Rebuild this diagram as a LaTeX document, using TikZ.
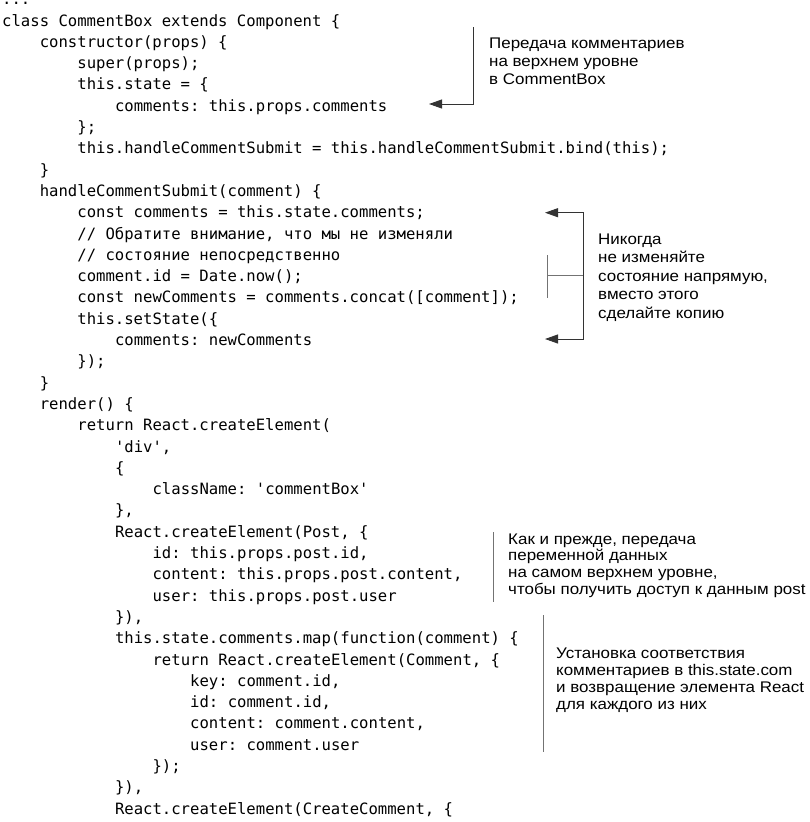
\documentclass[tikz,border=0pt]{standalone}
\usepackage{fontspec}
\setmainfont{Liberation Sans}
\setmonofont{DejaVu Sans Mono}
\newfontfamily\notefont{Liberation Sans}[FakeStretch=1.1]
\usetikzlibrary{arrows.meta}

\begin{document}
\begin{tikzpicture}[x=1pt, y=-1pt]
    \tikzstyle{code} = [anchor=base west, inner sep=0, font=\ttfamily\fontsize{15.6}{21.3}\selectfont]
    \tikzstyle{note} = [anchor=base west, inner sep=0, align=left, font=\notefont\fontsize{15.4}{18}\selectfont]
    \tikzstyle{bracket} = [draw=black!80, line width=0.9pt, >={Triangle[length=13pt, width=9pt]}]
    \tikzstyle{rule} = [draw=black!55, line width=0.9pt]

    \useasboundingbox (0,0) rectangle (809,822);

    % listing
    \node[code] (l1) at (2, 4.7) {...};
    \node[code] (l2) at (2, 26.0) {class CommentBox extends Component \{};
    \node[code] (l3) at (39.6, 47.3) {constructor(props) \{};
    \node[code] (l4) at (77.2, 68.6) {super(props);};
    \node[code] (l5) at (77.2, 89.9) {this.state = \{};
    \node[code] (l6) at (114.8, 111.2) {comments: this.props.comments};
    \node[code] (l7) at (77.2, 132.5) {\};};
    \node[code] (l8) at (77.2, 153.8) {this.handleCommentSubmit = this.handleCommentSubmit.bind(this);};
    \node[code] (l9) at (39.6, 175.1) {\}};
    \node[code] (l10) at (39.6, 196.4) {handleCommentSubmit(comment) \{};
    \node[code] (l11) at (77.2, 217.7) {const comments = this.state.comments;};
    \node[code] (l12) at (77.2, 239.0) {// Обратите внимание, что мы не изменяли};
    \node[code] (l13) at (77.2, 260.3) {// состояние непосредственно};
    \node[code] (l14) at (77.2, 281.6) {comment.id = Date.now();};
    \node[code] (l15) at (77.2, 302.9) {const newComments = comments.concat([comment]);};
    \node[code] (l16) at (77.2, 324.2) {this.setState(\{};
    \node[code] (l17) at (114.8, 345.5) {comments: newComments};
    \node[code] (l18) at (77.2, 366.8) {\});};
    \node[code] (l19) at (39.6, 388.1) {\}};
    \node[code] (l20) at (39.6, 409.4) {render() \{};
    \node[code] (l21) at (77.2, 430.7) {return React.createElement(};
    \node[code] (l22) at (114.8, 452.0) {\textquotesingle div\textquotesingle,};
    \node[code] (l23) at (114.8, 473.3) {\{};
    \node[code] (l24) at (152.4, 494.6) {className: \textquotesingle commentBox\textquotesingle};
    \node[code] (l25) at (114.8, 515.9) {\},};
    \node[code] (l26) at (114.8, 537.2) {React.createElement(Post, \{};
    \node[code] (l27) at (152.4, 558.5) {id: this.props.post.id,};
    \node[code] (l28) at (152.4, 579.8) {content: this.props.post.content,};
    \node[code] (l29) at (152.4, 601.1) {user: this.props.post.user};
    \node[code] (l30) at (114.8, 622.4) {\}),};
    \node[code] (l31) at (114.8, 643.7) {this.state.comments.map(function(comment) \{};
    \node[code] (l32) at (152.4, 665.0) {return React.createElement(Comment, \{};
    \node[code] (l33) at (190, 686.3) {key: comment.id,};
    \node[code] (l34) at (190, 707.6) {id: comment.id,};
    \node[code] (l35) at (190, 728.9) {content: comment.content,};
    \node[code] (l36) at (190, 750.2) {user: comment.user};
    \node[code] (l37) at (152.4, 771.5) {\});};
    \node[code] (l38) at (114.8, 792.8) {\}),};
    \node[code] (l39) at (114.8, 814.1) {React.createElement(CreateComment, \{};

    % callouts (base = last line)
    \node[note] (top) at (489, 84) {Передача комментариев\\на верхнем уровне\\в CommentBox};
    \node[note, font=\notefont\fontsize{15.4}{18.5}\selectfont] (never) at (598, 318) {Никогда\\не изменяйте\\состояние напрямую,\\вместо этого\\сделайте копию};
    \node[note, font=\notefont\fontsize{15.4}{16.7}\selectfont] (post) at (508, 594.1) {Как и прежде, передача\\переменной данных\\на самом верхнем уровне,\\чтобы получить доступ к данным post};
    \node[note, font=\notefont\fontsize{15.4}{17.3}\selectfont] (map) at (556, 709.9) {Установка соответствия\\комментариев в this.state.com\\и возвращение элемента React\\для каждого из них};

    \coordinate (topstart) at (473, 27);
    \coordinate (toptip) at (429, 104);
    \coordinate (nevertipa) at (545, 212.7);
    \coordinate (nevertipb) at (545, 339);
    \coordinate (ticka) at (547.7, 255);
    \coordinate (tickb) at (547.7, 298);
    \coordinate (tickmid) at (547.7, 275);
    \coordinate (posta) at (493, 532);
    \coordinate (postb) at (493, 602);
    \coordinate (mapa) at (543, 615);
    \coordinate (mapb) at (543, 752);

    \draw[bracket, ->] (topstart) |- (toptip);
    \draw[bracket, <->] (nevertipa) -- ++(38.3, 0) |- (nevertipb);
    \draw[rule] (ticka) -- (tickb);
    \draw[rule] (tickmid) -- ++(35.6, 0);
    \foreach \from/\to in {posta/postb, mapa/mapb}
    \draw[rule] (\from) -- (\to);
\end{tikzpicture}
\end{document}
